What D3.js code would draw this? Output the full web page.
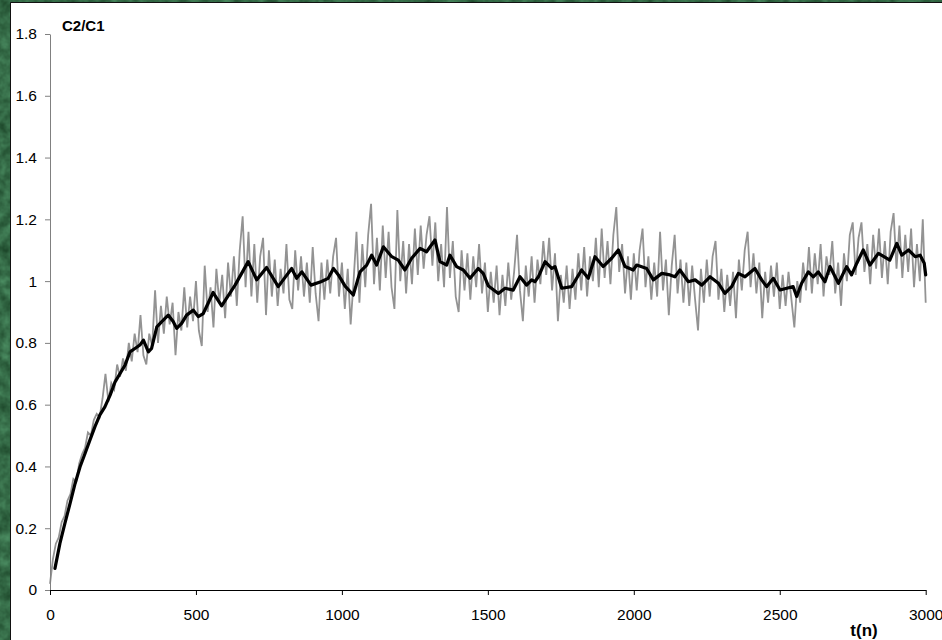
<!DOCTYPE html>
<html>
<head>
<meta charset="utf-8">
<script src="https://cdn.jsdelivr.net/npm/d3@7/dist/d3.min.js"></script>
<style>
  html, body { margin: 0; padding: 0; background: #23502e; }
  svg { display: block; }
  text { font-family: "Liberation Sans", Arial, sans-serif; }
</style>
</head>
<body>
<svg id="chart" width="942" height="640"></svg>
<script>
// Ratio C2/C1 over time t(n): raw series (grey) and its running average (black)
const xTicks = [0, 500, 1000, 1500, 2000, 2500, 3000];
const yTicks = [0, 0.2, 0.4, 0.6, 0.8, 1, 1.2, 1.4, 1.6, 1.8];

// raw ratio, sampled every 10 steps from t = 0 to t = 3000
const rawStep = 10;
const rawValues = [
  0.02, 0.10, 0.15, 0.17, 0.22, 0.24, 0.29, 0.31, 0.36, 0.35,
  0.41, 0.44, 0.46, 0.51, 0.50, 0.55, 0.57, 0.56, 0.62, 0.70,
  0.61, 0.67, 0.65, 0.73, 0.69, 0.75, 0.71, 0.80, 0.74, 0.83,
  0.77, 0.89, 0.76, 0.73, 0.83, 0.79, 0.97, 0.80, 0.92, 0.83,
  0.95, 0.86, 0.93, 0.76, 0.90, 0.84, 0.98, 0.85, 0.95, 0.87,
  1.00, 0.84, 0.79, 1.05, 0.90, 0.98, 0.85, 1.04, 0.93, 1.02,
  0.88, 1.06, 0.95, 1.08, 0.92, 1.10, 1.21, 0.98, 1.16, 0.95,
  1.12, 0.93, 1.08, 1.14, 0.89, 1.10, 0.95, 1.07, 0.92, 1.04,
  0.96, 1.12, 0.94, 0.91, 1.10, 0.97, 1.08, 0.95, 1.06, 0.93,
  1.11, 0.96, 0.87, 1.06, 0.94, 1.07, 0.96, 1.08, 1.14, 0.95,
  1.06, 0.91, 1.04, 0.86, 1.00, 1.16, 0.93, 1.12, 0.98, 1.15,
  1.25, 0.99, 1.14, 0.97, 1.18, 1.01, 1.16, 0.98, 0.91, 1.23,
  1.00, 1.13, 0.96, 1.12, 0.99, 1.17, 1.02, 1.18, 1.04, 1.15,
  1.21, 1.05, 1.19, 1.00, 1.12, 0.98, 1.24, 1.01, 1.13, 0.95,
  0.90, 1.10, 0.97, 1.09, 0.94, 1.08, 0.98, 1.12, 0.96, 1.06,
  0.90, 1.03, 0.93, 1.05, 0.89, 1.02, 0.92, 1.06, 0.94, 1.03,
  1.15, 0.97, 0.87, 1.05, 0.95, 1.08, 0.93, 1.07, 0.99, 1.13,
  1.02, 1.14, 0.97, 1.09, 0.87, 1.02, 0.93, 1.05, 0.91, 1.04,
  0.94, 1.09, 0.97, 1.11, 0.95, 1.08, 1.00, 1.14, 0.98, 1.17,
  1.01, 1.13, 0.99, 1.15, 1.24, 1.03, 1.12, 0.96, 1.08, 0.94,
  1.09, 0.97, 1.10, 1.17, 0.98, 1.08, 0.94, 1.06, 0.95, 1.16,
  0.97, 1.07, 0.89, 1.05, 1.15, 0.96, 1.07, 0.93, 1.06, 0.92,
  1.05, 0.94, 0.84, 1.04, 0.93, 1.07, 0.95, 1.08, 1.13, 0.94,
  1.04, 0.90, 1.02, 0.92, 1.03, 0.88, 1.07, 0.97, 1.10, 1.16,
  0.98, 1.09, 0.96, 1.06, 0.88, 1.03, 0.93, 1.05, 0.95, 1.06,
  0.91, 1.02, 0.92, 1.03, 0.94, 0.85, 1.00, 0.93, 1.06, 0.97,
  1.11, 0.96, 1.09, 0.99, 1.12, 0.95, 1.08, 1.02, 1.13, 0.96,
  1.06, 0.92, 1.09, 1.00, 1.15, 1.19, 1.02, 1.14, 1.19, 1.03,
  1.12, 0.99, 1.15, 1.04, 1.17, 1.01, 1.13, 0.99, 1.16, 1.22,
  1.04, 1.18, 1.01, 1.15, 1.03, 1.17, 0.98, 1.12, 1.00, 1.20,
  0.93
];

// running average
const avgT = [
  17, 34, 51, 69, 86, 103, 120, 137, 154, 171,
  188, 206, 223, 240, 257, 274, 291, 308, 320, 337,
  348, 366, 383, 405, 422, 434, 451, 468, 491, 508,
  525, 559, 588, 634, 679, 708, 742, 782, 799, 828,
  845, 863, 894, 928, 953, 971, 988, 1011, 1039, 1062,
  1085, 1102, 1119, 1142, 1171, 1193, 1216, 1239, 1268, 1290,
  1319, 1336, 1359, 1370, 1393, 1416, 1439, 1467, 1484, 1502,
  1536, 1559, 1587, 1610, 1633, 1650, 1661, 1673, 1696, 1719,
  1730, 1753, 1787, 1821, 1844, 1867, 1895, 1924, 1947, 1970,
  1998, 2010, 2044, 2067, 2096, 2124, 2141, 2158, 2187, 2210,
  2233, 2261, 2290, 2312, 2335, 2358, 2381, 2415, 2438, 2455,
  2478, 2501, 2524, 2546, 2558, 2575, 2598, 2615, 2632, 2655,
  2672, 2701, 2729, 2746, 2764, 2786, 2809, 2838, 2877, 2901,
  2918, 2941, 2964, 2981, 2995, 3000
];
const avgValues = [
  0.070, 0.151, 0.216, 0.281, 0.345, 0.399, 0.442, 0.486, 0.529, 0.567,
  0.593, 0.631, 0.674, 0.701, 0.728, 0.771, 0.782, 0.793, 0.809, 0.771,
  0.782, 0.852, 0.869, 0.890, 0.869, 0.847, 0.863, 0.890, 0.906, 0.885,
  0.895, 0.963, 0.920, 0.987, 1.063, 1.004, 1.044, 0.982, 1.004, 1.041,
  1.009, 1.030, 0.987, 0.998, 1.009, 1.041, 1.020, 0.984, 0.955, 1.030,
  1.052, 1.084, 1.052, 1.111, 1.079, 1.068, 1.036, 1.074, 1.106, 1.095,
  1.133, 1.063, 1.052, 1.084, 1.047, 1.036, 1.009, 1.041, 1.025, 0.984,
  0.960, 0.977, 0.971, 1.014, 0.987, 1.004, 0.998, 1.014, 1.063, 1.041,
  1.047, 0.977, 0.982, 1.036, 1.009, 1.079, 1.047, 1.074, 1.101, 1.047,
  1.036, 1.052, 1.041, 1.004, 1.025, 1.020, 1.014, 1.036, 0.998, 1.004,
  0.987, 1.014, 0.993, 0.960, 0.982, 1.025, 1.014, 1.041, 1.004, 0.982,
  1.009, 0.971, 0.977, 0.982, 0.950, 0.993, 1.030, 1.014, 1.030, 0.998,
  1.047, 0.993, 1.047, 1.020, 1.058, 1.101, 1.052, 1.090, 1.068, 1.122,
  1.084, 1.101, 1.079, 1.084, 1.058, 1.020
];

const svg = d3.select("#chart");

// mottled green backdrop
const defs = svg.append("defs");
const f = defs.append("filter").attr("id", "marble")
  .attr("x", 0).attr("y", 0).attr("width", "100%").attr("height", "100%");
f.append("feTurbulence").attr("type", "fractalNoise")
  .attr("baseFrequency", 0.09).attr("numOctaves", 3).attr("seed", 4).attr("result", "n");
f.append("feColorMatrix").attr("in", "n").attr("type", "matrix")
  .attr("values", "0 0 0 0 0.10  0 0 0 0 0.36  0 0 0 0 0.17  0 0 0 0.9 0")
  .attr("result", "c");
svg.append("rect").attr("width", 942).attr("height", 640).attr("fill", "#163d22");
svg.append("rect").attr("width", 942).attr("height", 640).attr("filter", "url(#marble)");

// white chart panel
svg.append("rect").attr("x", 11).attr("y", 3).attr("width", 931).attr("height", 637)
  .attr("fill", "#ffffff");
svg.append("path").attr("d", "M10.5,640V2.5H942")
  .attr("fill", "none").attr("stroke", "#111").attr("stroke-width", 1);

const x = d3.scaleLinear().domain([0, 3000]).range([50, 925.7]);
const y = d3.scaleLinear().domain([0, 1.8]).range([590, 34]);

const raw = rawValues.map((v, i) => ({ t: i * rawStep, v }));
const avg = avgT.map((t, i) => ({ t, v: avgValues[i] }));

const line = d3.line().x(d => x(d.t)).y(d => y(d.v));

svg.append("path").datum(raw)
  .attr("d", line).attr("fill", "none")
  .attr("stroke", "#939393").attr("stroke-width", 1.8)
  .attr("stroke-linejoin", "miter");

svg.append("path").datum(avg)
  .attr("d", line).attr("fill", "none")
  .attr("stroke", "#000000").attr("stroke-width", 3.2)
  .attr("stroke-linejoin", "round").attr("stroke-linecap", "round");

// y axis
const fmt = d => d3.format("~g")(d);
const yAxis = svg.append("g").attr("transform", "translate(50,0)")
  .call(d3.axisLeft(y).tickValues(yTicks).tickFormat(fmt).tickSize(5).tickSizeOuter(0).tickPadding(8));
yAxis.select(".domain").attr("stroke", "#808080");
yAxis.selectAll(".tick line").attr("stroke", "#808080");
yAxis.selectAll("text").attr("font-size", 15.5).attr("fill", "#000")
  .style("font-family", "'Liberation Sans', Arial, sans-serif");

// x axis
const xAxis = svg.append("g").attr("transform", "translate(0,590)")
  .call(d3.axisBottom(x).tickValues(xTicks).tickFormat(d3.format("d")).tickSize(5).tickSizeOuter(0).tickPadding(14));
xAxis.select(".domain").attr("stroke", "#000");
xAxis.selectAll(".tick line").attr("stroke", "#000");
xAxis.selectAll("text").attr("font-size", 15.5).attr("fill", "#000")
  .style("font-family", "'Liberation Sans', Arial, sans-serif");

// axis titles
svg.append("text").attr("x", 62).attr("y", 30.5)
  .attr("font-size", 15).attr("font-weight", "bold").text("C2/C1");
svg.append("text").attr("x", 864).attr("y", 636).attr("text-anchor", "middle")
  .attr("font-size", 17).attr("font-weight", "bold").text("t(n)");
</script>
</body>
</html>
